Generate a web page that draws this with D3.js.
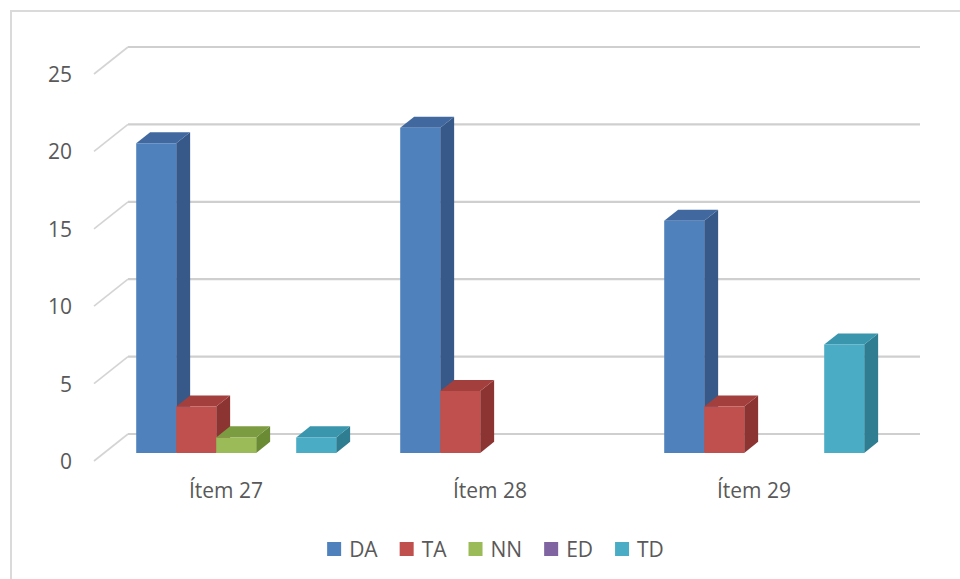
<!DOCTYPE html>
<html>
<head>
<meta charset="utf-8">
<script src="https://cdn.jsdelivr.net/npm/d3@7"></script>
<style>
  html, body { margin: 0; padding: 0; background: #ffffff; }
  svg { display: block; }
  text { font-family: "Open Sans", "Noto Sans", sans-serif; fill: #595959; }
</style>
</head>
<body>
<svg id="chart" width="960" height="579"></svg>
<script>
// Categories and series
const categories = ["Ítem 27", "Ítem 28", "Ítem 29"];
const seriesNames = ["DA", "TA", "NN", "ED", "TD"];

// Values per series, one per category
const DA = [20, 21, 15];
const TA = [3, 4, 3];
const NN = [1, 0, 0];
const ED = [0, 0, 0];
const TD = [1, 0, 7];

const yTicks = [0, 5, 10, 15, 20, 25];

// Face colours for each series: front, side, top
const frontColors = ["#4f81bd", "#c0504d", "#9bbb59", "#8064a2", "#4bacc6"];
const sideColors  = ["#36598a", "#8c3432", "#6b8a34", "#5c4777", "#2e7d90"];
const topColors   = ["#41699f", "#a33f3c", "#7c9c42", "#6c5389", "#3996ad"];

const seriesValues = [DA, TA, NN, ED, TD];

const svg = d3.select("#chart");
const W = 960, H = 579;

// Chart area border
svg.append("rect")
  .attr("x", 11).attr("y", 11)
  .attr("width", W + 20).attr("height", H + 20)
  .attr("fill", "#ffffff")
  .attr("stroke", "#dadada").attr("stroke-width", 2);

// Oblique 3D projection: z = 0 at the front edge of the floor, z = 1 at the back wall
const DX = 34, DY = 27;
const x = d3.scaleBand().domain(categories).range([94, 886]);
const xi = d3.scaleBand().domain(seriesNames).range([0, x.bandwidth()])
  .paddingInner(0).paddingOuter(0.8);
const y = d3.scaleLinear().domain([0, 25]).range([461, 74]);
const P = (xf, v, z) => [xf + DX * z, y(v) - DY * z];

const x0 = x.range()[0], x1 = x.range()[1];

// Back wall gridlines
const grid = svg.append("g");
grid.selectAll("line.wall").data(yTicks).join("line")
  .attr("class", "wall")
  .attr("x1", d => P(x0, d, 1)[0]).attr("y1", d => P(x0, d, 1)[1])
  .attr("x2", d => P(x1, d, 1)[0]).attr("y2", d => P(x1, d, 1)[1])
  .attr("stroke", "#cfcfcf").attr("stroke-width", 2.2);

// Side wall gridlines (short diagonals)
grid.selectAll("line.side").data(yTicks).join("line")
  .attr("class", "side")
  .attr("x1", d => P(x0, d, 0)[0]).attr("y1", d => P(x0, d, 0)[1])
  .attr("x2", d => P(x0, d, 1)[0]).attr("y2", d => P(x0, d, 1)[1])
  .attr("stroke", "#d4d4d4").attr("stroke-width", 1.6);

// Value axis labels on the front plane
svg.append("g").selectAll("text").data(yTicks).join("text")
  .attr("x", 72).attr("y", d => y(d))
  .attr("text-anchor", "end")
  .attr("dominant-baseline", "central")
  .attr("font-size", 21)
  .text(d => d);

// Bars, drawn left to right so nearer faces cover the ones behind them
const z0 = 0.3, z1 = 0.71;
const bars = [];
categories.forEach((c, ci) => {
  seriesNames.forEach((s, si) => {
    const v = seriesValues[si][ci];
    if (v > 0) bars.push({ c, s, si, v });
  });
});
bars.sort((a, b) => (x(a.c) + xi(a.s)) - (x(b.c) + xi(b.s)));

const poly = pts => pts.map(p => p.join(",")).join(" ");
const barG = svg.append("g");
bars.forEach(b => {
  const xa = x(b.c) + xi(b.s), xb = xa + xi.bandwidth();
  const g = barG.append("g");
  g.append("polygon")
    .attr("points", poly([P(xb, 0, z0), P(xb, 0, z1), P(xb, b.v, z1), P(xb, b.v, z0)]))
    .attr("fill", sideColors[b.si]);
  g.append("polygon")
    .attr("points", poly([P(xa, b.v, z0), P(xb, b.v, z0), P(xb, b.v, z1), P(xa, b.v, z1)]))
    .attr("fill", topColors[b.si]);
  g.append("polygon")
    .attr("points", poly([P(xa, 0, z0), P(xb, 0, z0), P(xb, b.v, z0), P(xa, b.v, z0)]))
    .attr("fill", frontColors[b.si]);
});

// Category labels under the floor
svg.append("g").selectAll("text").data(categories).join("text")
  .attr("x", d => x(d) + x.bandwidth() / 2)
  .attr("y", 498)
  .attr("text-anchor", "middle")
  .attr("font-size", 21)
  .text(d => d);

// Legend, laid out in one centred row
const legend = svg.append("g");
const items = legend.selectAll("g").data(seriesNames).join("g");
items.append("rect")
  .attr("width", 14).attr("height", 14)
  .attr("y", 542)
  .attr("fill", (d, i) => frontColors[i]);
items.append("text")
  .attr("x", 22).attr("y", 557)
  .attr("font-size", 21)
  .text(d => d);
let cursor = 0;
const offsets = [];
items.each(function () {
  offsets.push(cursor);
  const tw = d3.select(this).select("text").node().getComputedTextLength();
  cursor += 22 + tw + 22;
});
const total = cursor - 22;
const startX = 495.5 - total / 2;
items.attr("transform", (d, i) => `translate(${startX + offsets[i]},0)`);
</script>
</body>
</html>
